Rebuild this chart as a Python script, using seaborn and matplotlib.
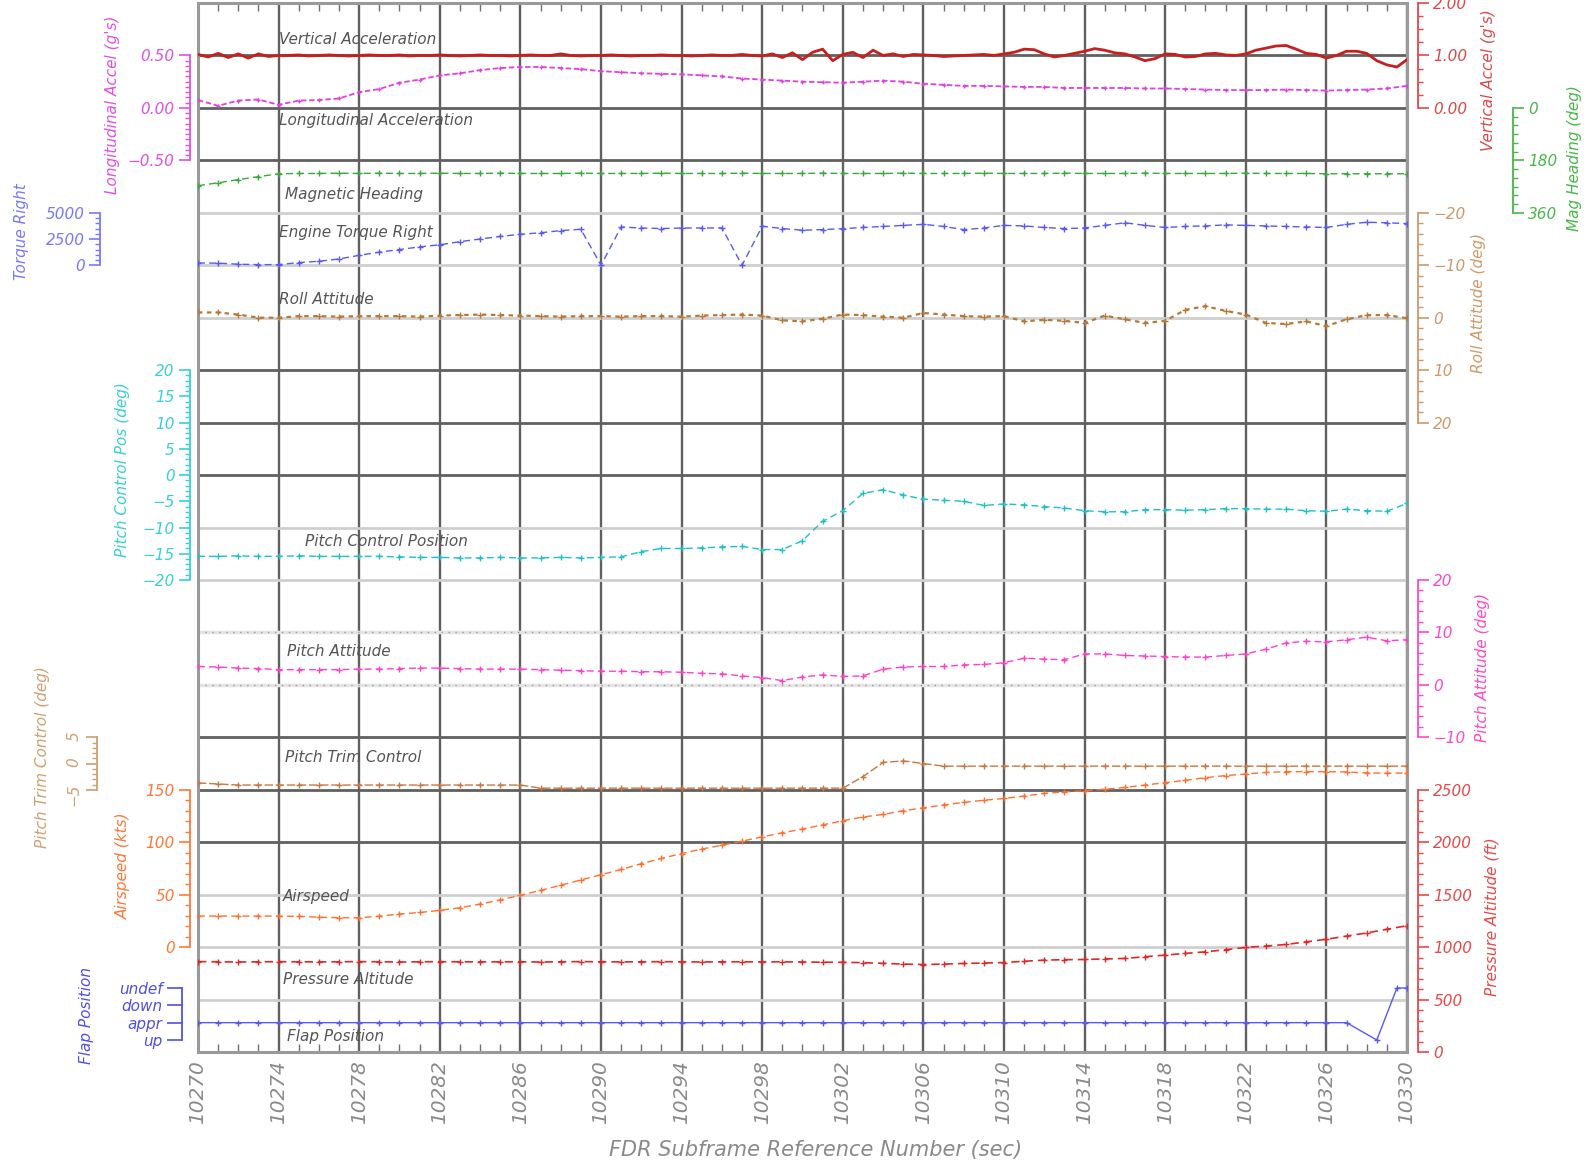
import numpy as np
import matplotlib
matplotlib.use("Agg")
import matplotlib.pyplot as plt
import seaborn as sns
from matplotlib.ticker import FixedLocator, MultipleLocator, StrMethodFormatter

# sample clocks (seconds)
t_1hz = np.arange(10270, 10331)
t_2hz = np.arange(10270, 10330.5, 0.5)
x_ticks = [10270, 10274, 10278, 10282, 10286, 10290, 10294, 10298,
           10302, 10306, 10310, 10314, 10318, 10322, 10326, 10330]

vert_accel = [
    1.02, 0.97, 1.04, 0.96, 1.03, 0.95, 1.03, 0.98, 1.00,
    1.00, 1.01, 0.99, 1.00, 1.01, 1.00, 0.99, 1.00, 1.01, 1.00,
    1.00, 1.01, 0.99, 1.00, 1.00, 1.01, 1.00, 0.99, 1.00, 1.01,
    1.00, 1.00, 0.99,
    1.00, 1.01, 1.00, 1.00, 1.03, 1.00, 0.99, 1.00, 1.00, 1.01,
    1.00, 0.99, 1.00, 1.00, 1.01, 1.00, 1.00, 0.99, 1.00, 1.01,
    1.00, 1.00, 1.02, 1.00, 0.99,
    1.03, 0.96, 1.05, 0.92, 1.06, 1.12, 0.90, 1.02,
    1.06, 0.96, 1.10, 1.00, 1.03, 0.98, 1.02, 1.01, 1.00, 0.98,
    0.99, 1.00, 1.01, 1.02, 1.00, 1.03,
    1.06, 1.12, 1.11, 1.03, 0.97, 1.00, 1.04, 1.08, 1.13, 1.10,
    1.05, 1.03, 0.97, 0.90, 0.94, 1.03,
    1.02, 0.97, 0.98, 1.03, 1.04, 1.01, 1.00, 1.03, 1.10, 1.14,
    1.18, 1.19, 1.12, 1.04, 1.02, 0.95, 1.00, 1.08, 1.08, 1.04,
    0.90, 0.82, 0.78, 0.92,
]

long_accel = [
    0.075, 0.02, 0.07, 0.08, 0.03, 0.07, 0.075, 0.09, 0.15, 0.18,
    0.24, 0.27, 0.31, 0.33, 0.36, 0.38, 0.39, 0.39, 0.38, 0.37,
    0.35, 0.34, 0.33, 0.325, 0.32, 0.31, 0.30, 0.28, 0.27, 0.26,
    0.25, 0.245, 0.24, 0.25, 0.26, 0.25, 0.23, 0.22, 0.21, 0.21,
    0.205, 0.20, 0.20, 0.19, 0.19, 0.19, 0.19, 0.185, 0.185, 0.18,
    0.175, 0.17, 0.17, 0.17, 0.175, 0.17, 0.165, 0.17, 0.175, 0.185,
    0.21,
]

mag_heading = [
    267, 257, 246, 236, 226, 225, 225, 224, 225, 224,
    225, 225, 224, 225, 225, 224, 225, 225, 225, 224,
    225, 225, 225, 224, 225, 225, 225, 224, 225, 225,
    225, 224, 225, 225, 225, 224, 225, 225, 225, 224,
    225, 225, 225, 224, 225, 225, 225, 224, 225, 225,
    225, 225, 224, 225, 225, 225, 226, 226, 226, 226,
    226,
]

torque_right = [
    220, 200, 100, 60, 60, 250, 380, 600, 950, 1250,
    1500, 1750, 1950, 2250, 2500, 2750, 2950, 3100, 3300, 3430,
    0, 3650, 3550, 3500, 3550, 3550, 3560, 0, 3720, 3500,
    3340, 3400, 3490, 3600, 3700, 3800, 3900, 3700, 3400, 3550,
    3800, 3750, 3600, 3500, 3550, 3800, 4050, 3800, 3600, 3700,
    3750, 3850, 3800, 3750, 3700, 3650, 3600, 3900, 4100, 4050,
    3970,
]

roll_att = [
    -1.0, -1.0, -0.6, 0.0, 0.0, -0.3, -0.3, -0.2, -0.3, -0.3,
    -0.3, -0.2, -0.4, -0.5, -0.6, -0.5, -0.4, -0.3, -0.2, -0.3,
    -0.3, -0.2, -0.3, -0.3, -0.2, -0.4, -0.5, -0.6, -0.4, 0.5,
    0.7, 0.2, -0.6, -0.5, -0.2, 0.0, -0.9, -0.6, -0.3, -0.2,
    -0.3, 0.7, 0.4, 0.6, 1.0, -0.4, 0.3, 1.0, 0.6, -1.5,
    -2.2, -1.3, -0.6, 1.0, 1.2, 0.7, 1.6, 0.3, -0.5, -0.5,
    0.1,
]

pitch_ctrl = [
    -15.5, -15.5, -15.4, -15.5, -15.5, -15.4, -15.5, -15.5, -15.5, -15.5,
    -15.6, -15.7, -15.7, -15.8, -15.8, -15.7, -15.8, -15.8, -15.7, -15.8,
    -15.7, -15.6, -14.6, -14.0, -14.0, -13.9, -13.7, -13.6, -14.2, -14.2,
    -12.5, -8.8, -6.8, -3.5, -2.8, -3.8, -4.6, -4.8, -5.0, -5.8,
    -5.5, -5.7, -6.0, -6.3, -6.8, -7.0, -7.0, -6.6, -6.6, -6.7,
    -6.6, -6.4, -6.4, -6.5, -6.5, -6.8, -6.9, -6.5, -6.8, -6.9,
    -5.4,
]

pitch_att = [
    3.5, 3.4, 3.2, 3.1, 2.9, 2.9, 2.9, 2.9, 3.0, 3.0,
    3.1, 3.2, 3.2, 3.1, 3.0, 3.0, 3.0, 2.9, 2.8, 2.7,
    2.6, 2.6, 2.5, 2.5, 2.4, 2.2, 2.1, 1.7, 1.4, 0.8,
    1.5, 1.9, 1.6, 1.7, 3.0, 3.4, 3.5, 3.5, 3.8, 3.9,
    4.2, 5.1, 4.9, 4.8, 5.9, 5.9, 5.6, 5.5, 5.4, 5.3,
    5.3, 5.6, 5.9, 6.8, 8.0, 8.3, 8.2, 8.6, 9.1, 8.4,
    8.6,
]

pitch_trim = [
    -3.7, -3.9, -4.1, -4.1, -4.1, -4.1, -4.1, -4.1, -4.1, -4.1,
    -4.1, -4.1, -4.1, -4.1, -4.1, -4.1, -4.1, -4.7, -4.7, -4.7,
    -4.7, -4.7, -4.7, -4.7, -4.7, -4.7, -4.7, -4.7, -4.7, -4.7,
    -4.7, -4.7, -4.7, -2.5, 0.2, 0.5, 0.0, -0.5, -0.5, -0.5,
    -0.5, -0.5, -0.5, -0.5, -0.5, -0.5, -0.5, -0.5, -0.5, -0.5,
    -0.5, -0.5, -0.5, -0.5, -0.5, -0.5, -0.5, -0.5, -0.5, -0.5,
    -0.5,
]

airspeed = [
    29.6, 29.6, 29.5, 29.6, 29.5, 29.4, 28.5, 28.0, 28.0, 29.5,
    31.5, 33.0, 35.0, 37.5, 41.0, 45.0, 49.4, 54.0, 59.0, 64.0,
    69.0, 74.0, 79.5, 84.5, 89.2, 93.5, 97.1, 101.0, 105.1, 109.0,
    112.5, 116.5, 120.5, 124.0, 126.5, 130.0, 132.8, 135.5, 138.0, 140.0,
    141.7, 144.0, 146.5, 148.0, 149.0, 150.5, 152.2, 154.5, 156.7, 159.0,
    161.5, 163.5, 165.0, 166.5, 167.2, 167.3, 167.2, 167.0, 166.0, 165.8,
    166.0,
]

press_alt = [
    862, 860, 858, 860, 861, 860, 859, 860, 862, 860,
    858, 860, 861, 860, 859, 860, 860, 858, 860, 862,
    860, 859, 860, 861, 860, 858, 860, 860, 859, 860,
    858, 856, 855, 852, 845, 838, 834, 838, 844, 848,
    853, 865, 876, 880, 882, 887, 892, 908, 924, 940,
    955, 975, 997, 1010, 1025, 1050, 1075, 1105, 1135, 1170,
    1204,
]

flap_t = list(range(10270, 10328)) + [10328.5, 10329.5, 10330]
flap_pos = [
    1, 1, 1, 1, 1, 1, 1, 1, 1, 1,
    1, 1, 1, 1, 1, 1, 1, 1, 1, 1,
    1, 1, 1, 1, 1, 1, 1, 1, 1, 1,
    1, 1, 1, 1, 1, 1, 1, 1, 1, 1,
    1, 1, 1, 1, 1, 1, 1, 1, 1, 1,
    1, 1, 1, 1, 1, 1, 1, 1,
    0, 3, 3,
]
flap_labels = ["up", "appr", "down", "undef"]

# ---------------------------------------------------------------- layout
sns.set_style("white")
plt.rcParams["font.family"] = ["DejaVu Sans"]
plt.rcParams["font.style"] = "italic"

FIG_W, FIG_H = 1585, 1164
PLOT_L, PLOT_R, PLOT_T, PLOT_B = 198, 1407, 3, 1052
N_BANDS = 20
BAND_PX = (PLOT_B - PLOT_T) / N_BANDS
XLIM = (10270, 10330)


def band_of(y_px):
    return (PLOT_B - y_px) / BAND_PX


fig = plt.figure(figsize=(FIG_W / 100, FIG_H / 100), dpi=100)
rect = [PLOT_L / FIG_W, 1 - PLOT_B / FIG_H,
        (PLOT_R - PLOT_L) / FIG_W, (PLOT_B - PLOT_T) / FIG_H]

main = fig.add_axes(rect)
main.set_xlim(*XLIM)
main.set_ylim(0, N_BANDS)
main.set_yticks([])
main.set_xticks(x_ticks)
main.xaxis.set_minor_locator(MultipleLocator(1))
main.grid(axis="x", color="#606060", lw=1.7)
main.tick_params(axis="x", which="major", length=0, pad=6, labelsize=14.5,
                 labelcolor="#8a8a8a", labelrotation=90)
main.tick_params(axis="x", which="minor", direction="in", top=True, bottom=True,
                 length=6, width=1, color="#707070")
for sp in main.spines.values():
    sp.set_color("#9a9a9a")
    sp.set_linewidth(2.2)

# band separators: dark / light / dotted
band_style = {1: "light", 2: "light", 3: "light", 4: "dark", 5: "dark", 6: "dark",
              7: "dotted", 8: "dotted", 9: "light", 10: "light", 11: "dark",
              12: "dark", 13: "dark", 14: "light", 15: "light", 16: "light",
              17: "dark", 18: "dark", 19: "dark"}
for k, st in band_style.items():
    if st == "dark":
        main.axhline(k, color="#606060", lw=2.0, zorder=1)
    elif st == "light":
        main.axhline(k, color="#cfcfcf", lw=2.0, zorder=1)
    else:
        main.axhline(k, color="#e4e4e4", lw=2.5, zorder=1)
        main.axhline(k, color="#9a9a9a", lw=1.0, ls=(0, (1, 4)), zorder=1)


def param_axis(side, offset_px, anchor_a, anchor_b, bounds, majors, minor_step,
               color, fmt="{x:.0f}"):
    ax = fig.add_axes(rect)
    ax.patch.set_visible(False)
    (v_a, b_a), (v_b, b_b) = anchor_a, anchor_b
    per_band = (v_b - v_a) / (b_b - b_a)
    y0 = v_a - b_a * per_band
    ax.set_ylim(y0, y0 + N_BANDS * per_band)
    ax.xaxis.set_visible(False)
    for name, sp in ax.spines.items():
        sp.set_visible(name == side)
    sp = ax.spines[side]
    sp.set_position(("outward", offset_px * 0.72))
    sp.set_bounds(min(bounds), max(bounds))
    sp.set_color(color)
    sp.set_linewidth(1.3)
    if side == "right":
        ax.yaxis.tick_right()
    else:
        ax.yaxis.tick_left()
    ax.set_yticks(majors)
    ax.yaxis.set_major_formatter(StrMethodFormatter(fmt))
    lo, hi = min(bounds), max(bounds)
    ax.yaxis.set_minor_locator(FixedLocator(np.arange(lo, hi + minor_step / 2, minor_step)))
    ax.tick_params(axis="y", which="major", direction="out", length=8, width=1.2,
                   color=color, labelcolor=color, labelsize=11, pad=3)
    ax.tick_params(axis="y", which="minor", direction="out", length=3.5, width=1,
                   color=color)
    return ax


def draw(ax, x, y, color, ls=(0, (5, 3)), lw=1.0, marker="+", ms=5):
    sns.lineplot(x=x, y=y, ax=ax, color=color, linestyle=ls, linewidth=lw,
                 marker=marker, markersize=ms, markeredgecolor=color,
                 markeredgewidth=1.0, estimator=None, sort=False)
    ax.set_xlim(*XLIM)
    ax.set_xlabel("")
    ax.set_ylabel("")


def axis_label(x_px, y_px, text, color, size=11):
    fig.text(x_px / FIG_W, 1 - y_px / FIG_H, text, rotation=90, ha="center",
             va="center", color=color, fontsize=size)


# ----- left side axes
ax_lon = param_axis("left", 8, (0.5, 19), (-0.5, 17), (-0.5, 0.5),
                    [0.5, 0.0, -0.5], 0.05, "#e050e0", fmt="{x:.2f}")
ax_trq = param_axis("left", 98, (5000, 16), (0, 15), (0, 5000),
                    [0, 2500, 5000], 500, "#7878ff")
ax_pcp = param_axis("left", 8, (20, 13), (-20, 9), (-20, 20),
                    [20, 15, 10, 5, 0, -5, -10, -15, -20], 1, "#38d0d8")
ax_trim = param_axis("left", 101, (5, 6), (-5, 5), (-5, 5),
                     [-5, 0, 5], 1, "#d0a070")
ax_trim.tick_params(axis="y", labelrotation=90)
ax_ias = param_axis("left", 8, (150, 5), (0, 2), (0, 150),
                    [0, 50, 100, 150], 10, "#ff7838")
ax_flap = param_axis("left", 16, (3, band_of(988)), (0, band_of(1040)), (0, 3),
                     [0, 1, 2, 3], 1, "#5050e8")
ax_flap.set_yticks([0, 1, 2, 3], flap_labels)
ax_flap.tick_params(axis="y", which="major", length=11)

# ----- right side axes
ax_vrt = param_axis("right", 11, (2, 20), (0, 18), (0, 2),
                    [0, 1, 2], 0.25, "#e04848", fmt="{x:.2f}")
ax_hdg = param_axis("right", 106, (0, 18), (360, 16), (0, 360),
                    [0, 180, 360], 30, "#48b848")
ax_roll = param_axis("right", 11, (-20, 16), (20, 12), (-20, 20),
                     [-20, -10, 0, 10, 20], 2, "#d09868")
ax_patt = param_axis("right", 11, (20, 9), (-10, 6), (-10, 20),
                     [20, 10, 0, -10], 2, "#ff48c8")
ax_alt = param_axis("right", 11, (2500, 5), (0, 0), (0, 2500),
                    [0, 500, 1000, 1500, 2000, 2500], 100, "#e84848")

# ----- series
draw(ax_lon, t_1hz, long_accel, "#e040e0", ls=(0, (3, 1.5)), lw=1.3, ms=3)
draw(ax_vrt, t_2hz, vert_accel, "#c81e1e", ls="-", lw=2.0, marker=None)
draw(ax_hdg, t_1hz, mag_heading, "#3aa83a")
draw(ax_trq, t_1hz, torque_right, "#5a5af0")
draw(ax_roll, t_1hz, roll_att, "#b87838", ls=(0, (2, 2)), lw=1.6, ms=4)
draw(ax_pcp, t_1hz, pitch_ctrl, "#20c0c8")
draw(ax_patt, t_1hz, pitch_att, "#ff40c8")
draw(ax_trim, t_1hz, pitch_trim, "#c87840", ls=(0, (6, 2)))
draw(ax_ias, t_1hz, airspeed, "#ff7030")
draw(ax_alt, t_1hz, press_alt, "#e02828", lw=1.2)
draw(ax_flap, flap_t, flap_pos, "#5a5af0", ls="-", ms=4)

# ----- series titles inside the plot
titles = [("Vertical Acceleration", 10274.0, band_of(39)),
          ("Longitudinal Acceleration", 10274.0, band_of(120)),
          ("Magnetic Heading", 10274.3, band_of(194)),
          ("Engine Torque Right", 10274.0, band_of(232)),
          ("Roll Attitude", 10274.0, band_of(299)),
          ("Pitch Control Position", 10275.3, band_of(541)),
          ("Pitch Attitude", 10274.4, band_of(652)),
          ("Pitch Trim Control", 10274.3, band_of(758)),
          ("Airspeed", 10274.2, band_of(897)),
          ("Pressure Altitude", 10274.2, band_of(979)),
          ("Flap Position", 10274.4, band_of(1036))]
for text, tx, ty in titles:
    main.text(tx, ty, text, fontsize=11, color="#555555", ha="left", va="center",
              zorder=5)

# ----- axis titles
axis_label(112, 105, "Longitudinal Accel (g's)", "#e050e0")
axis_label(22, 232, "Torque Right", "#7878ff")
axis_label(123, 470, "Pitch Control Pos (deg)", "#38d0d8")
axis_label(43, 757, "Pitch Trim Control (deg)", "#d0a070")
axis_label(123, 866, "Airspeed (kts)", "#ff7838")
axis_label(86, 1015, "Flap Position", "#5050e8")
axis_label(1488, 80, "Vertical Accel (g's)", "#e04848")
axis_label(1575, 158, "Mag Heading (deg)", "#48b848")
axis_label(1478, 303, "Roll Attitude (deg)", "#d09868")
axis_label(1483, 667, "Pitch Attitude (deg)", "#ff48c8")
axis_label(1492, 917, "Pressure Altitude (ft)", "#e84848")

fig.text(816 / FIG_W, 1 - 1150 / FIG_H, "FDR Subframe Reference Number (sec)",
         ha="center", va="center", fontsize=15, color="#8a8a8a")

fig.savefig("out.png", dpi=100)
